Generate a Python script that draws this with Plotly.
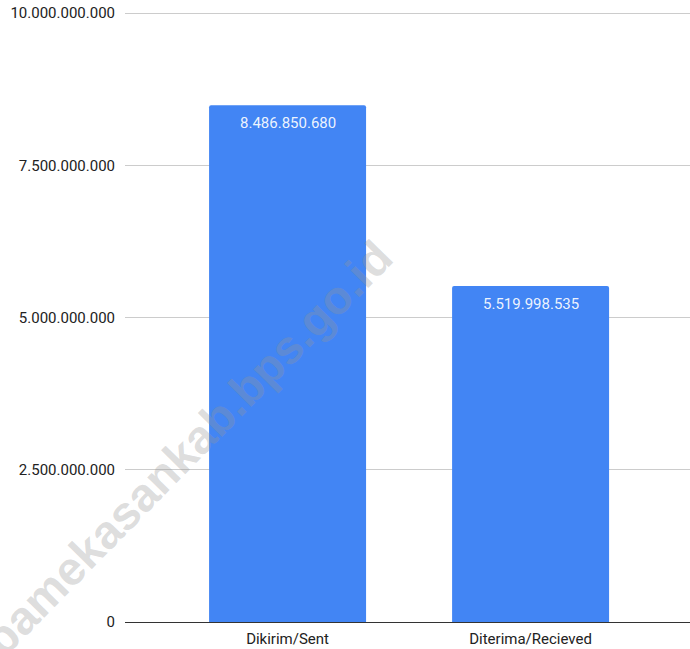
import plotly.graph_objects as go

categories = ["Dikirim/Sent", "Diterima/Recieved"]
values = [8486850680, 5519998535]
tick_vals = [0, 2500000000, 5000000000, 7500000000, 10000000000]
watermark = "pamekasankab.bps.go.id"

def fmt(v):
    return f"{v:,}".replace(",", ".")

fig = go.Figure()
fig.add_trace(go.Bar(
    x=categories, y=values,
    width=0.646,
    marker=dict(color="#4285F4", cornerradius=2, line=dict(width=0)),
    hoverinfo="skip",
))

annotations = []
for c, v in zip(categories, values):
    annotations.append(dict(
        x=c, y=v, xref="x", yref="y", text=fmt(v), showarrow=False,
        yanchor="top", yshift=-7,
        font=dict(family="Roboto", size=15, color="rgba(255,255,255,0.92)"),
    ))
annotations.append(dict(
    x=0.11, y=0.28, xref="paper", yref="paper", text="<b>" + watermark + "</b>",
    showarrow=False, textangle=-45.5, xanchor="center", yanchor="middle",
    font=dict(family="Liberation Sans", size=47, color="rgba(150,150,150,0.32)"),
))

fig.update_layout(
    width=690, height=649,
    margin=dict(l=125, r=0, t=1, b=27),
    paper_bgcolor="white", plot_bgcolor="white",
    separators=",.",
    showlegend=False,
    annotations=annotations,
    font=dict(family="Roboto", size=15, color="#222"),
    xaxis=dict(
        type="category", range=[-0.669, 1.656],
        showgrid=False, showline=True, linecolor="#333", linewidth=1,
        ticks="outside", ticklen=3, tickcolor="rgba(0,0,0,0)",
        tickfont=dict(family="Roboto", size=15, color="#222"),
        fixedrange=True,
    ),
    yaxis=dict(
        range=[0, 10200000000], tickvals=tick_vals, tickformat=",d",
        showgrid=True, gridcolor="#cccccc", gridwidth=1,
        zeroline=False, showline=False,
        ticks="outside", ticklen=6, tickcolor="rgba(0,0,0,0)",
        tickfont=dict(family="Roboto", size=15, color="#222"),
        fixedrange=True,
    ),
)

fig.write_html(
    "out.html",
    config={"displayModeBar": False},
    post_script="document.body.style.margin='0';",
)
